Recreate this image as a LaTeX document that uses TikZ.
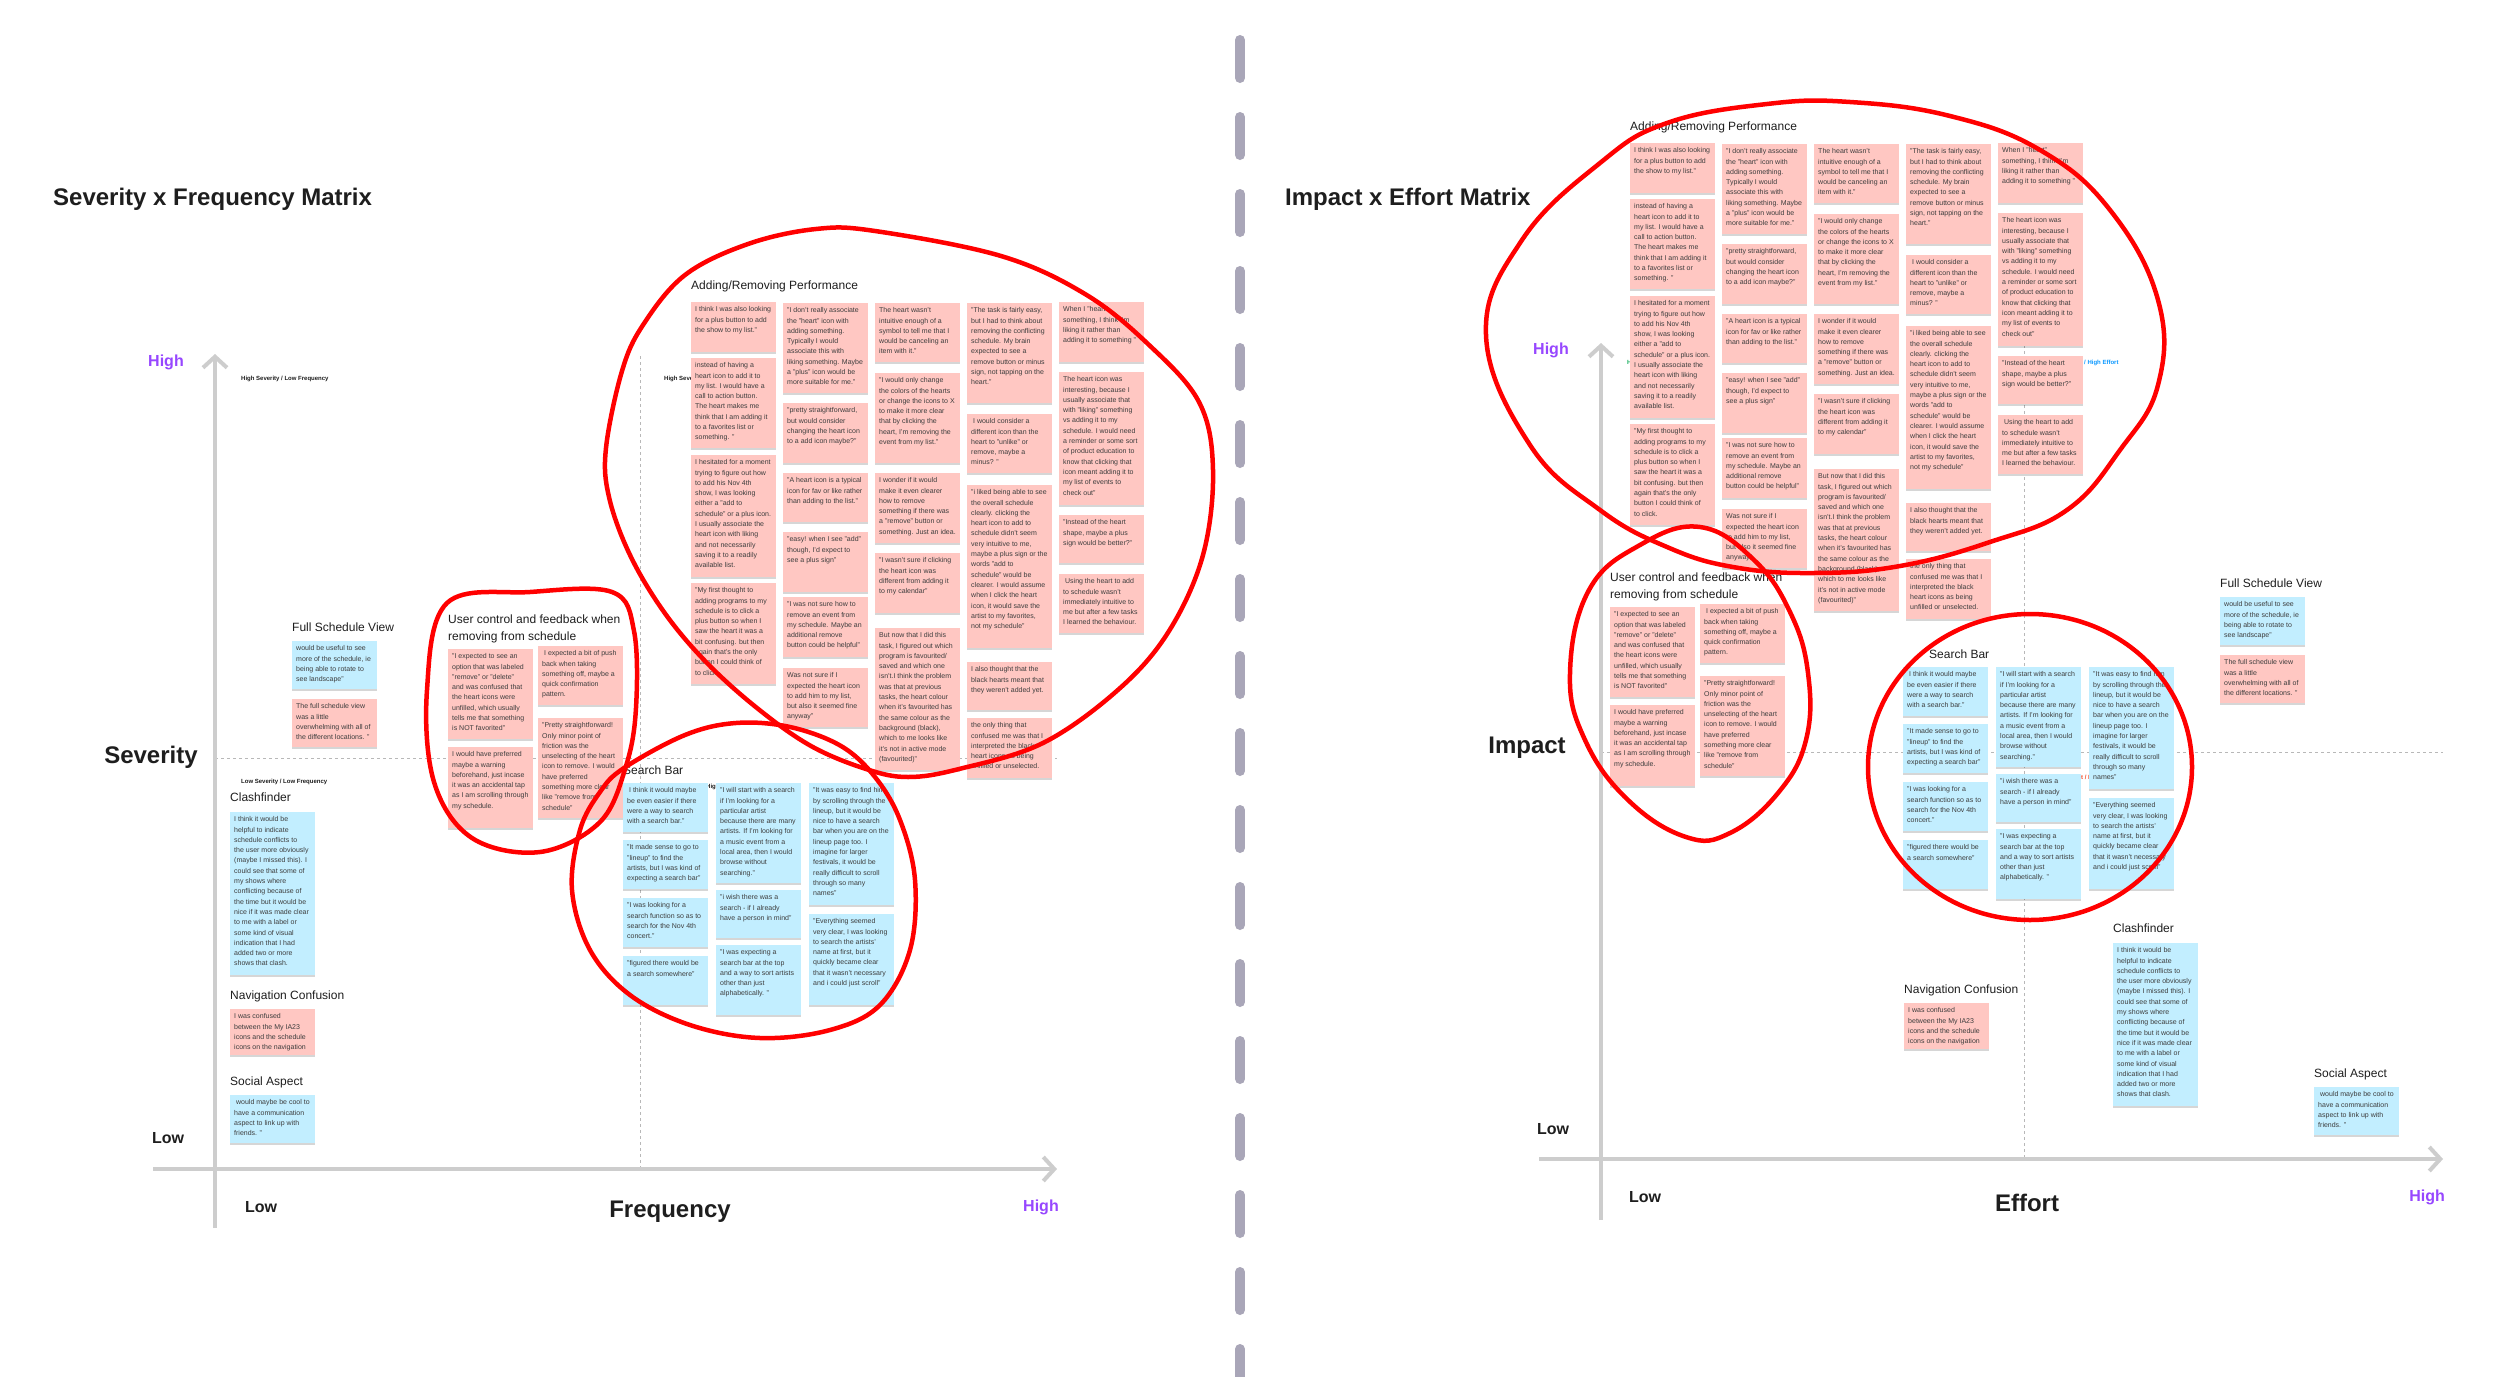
\documentclass[tikz,border=0pt]{standalone}
\usepackage{fontspec}
\setmainfont{Liberation Sans}
\usetikzlibrary{arrows.meta,shadows}
\definecolor{notepink}{HTML}{FFC7C2}
\definecolor{noteblue}{HTML}{C2EEFF}
\definecolor{axisgray}{HTML}{CDCDCD}
\definecolor{hipurple}{HTML}{9747FF}
\definecolor{divgray}{HTML}{A9A6B8}
\definecolor{notetxt}{HTML}{3D3D3D}
\definecolor{titletxt}{HTML}{1E1E1E}
\definecolor{qgreen}{HTML}{14AE5C}
\definecolor{qblue}{HTML}{0D99FF}
\definecolor{qorange}{HTML}{F24822}
\definecolor{loopred}{HTML}{FF0000}

\newcommand\sticky[6]{%
  \node[notebox,fill=#5,minimum height=#4pt] (#1) at (#2,#3) {};
  \node[notetext] (#1t) at (#1.north west) {#6};}

\newcommand\addgroup[3]{%
  \node[grouptitle] (#1title) at (#2,#3-16) {Adding/Removing Performance};
  \sticky{#1a1}{#2}{#3}{50}{notepink}{I think I was also looking\\for a plus button to add\\the show to my list."}
  \sticky{#1a2}{#2}{#3+56}{90}{notepink}{instead of having a\\heart icon to add it to\\my list. I would have a\\call to action button.\\The heart makes me\\think that I am adding it\\to a favorites list or\\something. "}
  \sticky{#1a3}{#2}{#3+153}{122}{notepink}{I hesitated for a moment\\trying to figure out how\\to add his Nov 4th\\show, I was looking\\either a "add to\\schedule" or a plus icon.\\I usually associate the\\heart icon with liking\\and not necessarily\\saving it to a readily\\available list.}
  \sticky{#1a4}{#2}{#3+281}{101}{notepink}{"My first thought to\\adding programs to my\\schedule is to click a\\plus button so when I\\saw the heart it was a\\bit confusing. but then\\again that's the only\\button I could think of\\to click.}
  \sticky{#1b1}{#2+92}{#3+1}{90}{notepink}{"I don't really associate\\the "heart" icon with\\adding something.\\Typically I would\\associate this with\\liking something. Maybe\\a "plus" icon would be\\more suitable for me."}
  \sticky{#1b2}{#2+92}{#3+101}{60}{notepink}{"pretty straightforward,\\but would consider\\changing the heart icon\\to a add icon maybe?"}
  \sticky{#1b3}{#2+92}{#3+171}{49}{notepink}{"A heart icon is a typical\\icon for fav or like rather\\than adding to the list."}
  \sticky{#1b4}{#2+92}{#3+230}{60}{notepink}{"easy! when I see "add"\\though, I'd expect to\\see a plus sign"}
  \sticky{#1b5}{#2+92}{#3+295}{60}{notepink}{"I was not sure how to\\remove an event from\\my schedule. Maybe an\\additional remove\\button could be helpful"}
  \sticky{#1b6}{#2+92}{#3+366}{59}{notepink}{Was not sure if I\\expected the heart icon\\to add him to my list,\\but also it seemed fine\\anyway"}
  \sticky{#1c1}{#2+184}{#3+1}{59}{notepink}{The heart wasn't\\intuitive enough of a\\symbol to tell me that I\\would be canceling an\\item with it."}
  \sticky{#1c2}{#2+184}{#3+71}{90}{notepink}{"I would only change\\the colors of the hearts\\or change the icons to X\\to make it more clear\\that by clicking the\\heart, I'm removing the\\event from my list."}
  \sticky{#1c3}{#2+184}{#3+171}{70}{notepink}{I wonder if it would\\make it even clearer\\how to remove\\something if there was\\a "remove" button or\\something. Just an idea.}
  \sticky{#1c4}{#2+184}{#3+251}{60}{notepink}{"I wasn't sure if clicking\\the heart icon was\\different from adding it\\to my calendar"}
  \sticky{#1c5}{#2+184}{#3+326}{142}{notepink}{But now that I did this\\task, I figured out which\\program is favourited/\\saved and which one\\isn't.I think the problem\\was that at previous\\tasks, the heart colour\\when it's favourited has\\the same colour as the\\background (black),\\which to me looks like\\it's not in active mode\\(favourited)"}
  \sticky{#1d1}{#2+276}{#3+1}{100}{notepink}{"The task is fairly easy,\\but I had to think about\\removing the conflicting\\schedule. My brain\\expected to see a\\remove button or minus\\sign, not tapping on the\\heart."}
  \sticky{#1d2}{#2+276}{#3+112}{59}{notepink}{\ I would consider a\\different icon than the\\heart to "unlike" or\\remove, maybe a\\minus? "}
  \sticky{#1d3}{#2+276}{#3+183}{163}{notepink}{"i liked being able to see\\the overall schedule\\clearly. clicking the\\heart icon to add to\\schedule didn't seem\\very intuitive to me,\\maybe a plus sign or the\\words "add to\\schedule" would be\\clearer. I would assume\\when I click the heart\\icon, it would save the\\artist to my favorites,\\not my schedule"}
  \sticky{#1d4}{#2+276}{#3+360}{48}{notepink}{I also thought that the\\black hearts meant that\\they weren't added yet.}
  \sticky{#1d5}{#2+276}{#3+416}{60}{notepink}{the only thing that\\confused me was that I\\interpreted the black\\heart icons as being\\unfilled or unselected.}
  \sticky{#1e1}{#2+368}{#3}{60}{notepink}{When I "heart"\\something, I think I'm\\liking it rather than\\adding it to something "}
  \sticky{#1e2}{#2+368}{#3+70}{133}{notepink}{The heart icon was\\interesting, because I\\usually associate that\\with "liking" something\\vs adding it to my\\schedule. I would need\\a reminder or some sort\\of product education to\\know that clicking that\\icon meant adding it to\\my list of events to\\check out"}
  \sticky{#1e3}{#2+368}{#3+213}{48}{notepink}{"Instead of the heart\\shape, maybe a plus\\sign would be better?"}
  \sticky{#1e4}{#2+368}{#3+272}{59}{notepink}{\ Using the heart to add\\to schedule wasn't\\immediately intuitive to\\me but after a few tasks\\I learned the behaviour.}
}

\newcommand\usergroup[3]{%
  \node[grouptitle,align=left,font=\fontsize{12}{17}\selectfont] (#1title) at (#2,#3-20.5) {User control and feedback when\\removing from schedule};
  \sticky{#1u1}{#2}{#3}{90}{notepink}{"I expected to see an\\option that was labeled\\"remove" or "delete"\\and was confused that\\the heart icons were\\unfilled, which usually\\tells me that something\\is NOT favorited"}
  \sticky{#1u2}{#2+90}{#3-3}{59}{notepink}{\ I expected a bit of push\\back when taking\\something off, maybe a\\quick confirmation\\pattern.}
  \sticky{#1u3}{#2}{#3+98}{81}{notepink}{I would have preferred\\maybe a warning\\beforehand, just incase\\it was an accidental tap\\as I am scrolling through\\my schedule.}
  \sticky{#1u4}{#2+90}{#3+69}{100}{notepink}{"Pretty straightforward!\\Only minor point of\\friction was the\\unselecting of the heart\\icon to remove. I would\\have preferred\\something more clear\\like "remove from\\schedule"}
}

\newcommand\searchgroup[4]{%
  \node[grouptitle] (#1title) at (#2+#4,#3-13) {Search Bar};
  \sticky{#1s1}{#2}{#3}{49}{noteblue}{\ I think it would maybe\\be even easier if there\\were a way to search\\with a search bar."}
  \sticky{#1s2}{#2}{#3+57}{49}{noteblue}{"It made sense to go to\\"lineup" to find the\\artists, but I was kind of\\expecting a search bar"}
  \sticky{#1s3}{#2}{#3+115}{49}{noteblue}{"I was looking for a\\search function so as to\\search for the Nov 4th\\concert."}
  \sticky{#1s4}{#2}{#3+173}{49}{noteblue}{"figured there would be\\a search somewhere"}
  \sticky{#1s5}{#2+93}{#3}{100}{noteblue}{"I will start with a search\\if I'm looking for a\\particular artist\\because there are many\\artists. If I'm looking for\\a music event from a\\local area, then I would\\browse without\\searching."}
  \sticky{#1s6}{#2+93}{#3+107}{48}{noteblue}{"i wish there was a\\search - if I already\\have a person in mind"}
  \sticky{#1s7}{#2+93}{#3+162}{70}{noteblue}{"I was expecting a\\search bar at the top\\and a way to sort artists\\other than just\\alphabetically. "}
  \sticky{#1s8}{#2+186}{#3}{122}{noteblue}{"It was easy to find him\\by scrolling through the\\lineup, but it would be\\nice to have a search\\bar when you are on the\\lineup page too. I\\imagine for larger\\festivals, it would be\\really difficult to scroll\\through so many\\names"}
  \sticky{#1s9}{#2+186}{#3+131}{91}{noteblue}{"Everything seemed\\very clear, I was looking\\to search the artists'\\name at first, but it\\quickly became clear\\that it wasn't necessary\\and i could just scroll"}
}

\newcommand\fullgroup[3]{%
  \node[grouptitle] (#1title) at (#2,#3-14) {Full Schedule View};
  \sticky{#1f1}{#2}{#3}{48}{noteblue}{would be useful to see\\more of the schedule, ie\\being able to rotate to\\see landscape"}
  \sticky{#1f2}{#2}{#3+58}{48}{notepink}{The full schedule view\\was a little\\overwhelming with all of\\the different locations. "}
}
\newcommand\clashgroup[3]{%
  \node[grouptitle] (#1title) at (#2,#3-15) {Clashfinder};
  \sticky{#1k1}{#2}{#3}{163}{noteblue}{I think it would be\\helpful to indicate\\schedule conflicts to\\the user more obviously\\(maybe I missed this). I\\could see that some of\\my shows where\\conflicting because of\\the time but it would be\\nice if it was made clear\\to me with a label or\\some kind of visual\\indication that I had\\added two or more\\shows that clash.}
}
\newcommand\navgroup[3]{%
  \node[grouptitle] (#1title) at (#2,#3-13) {Navigation Confusion};
  \sticky{#1n1}{#2}{#3}{46}{notepink}{I was confused\\between the My IA23\\icons and the schedule\\icons on the navigation}
}
\newcommand\socialgroup[3]{%
  \node[grouptitle] (#1title) at (#2,#3-13) {Social Aspect};
  \sticky{#1p1}{#2}{#3}{48}{noteblue}{\ would maybe be cool to\\have a communication\\aspect to link up with\\friends. "}
}

\tikzset{
  notebox/.style={anchor=north west, minimum width=85pt, inner sep=0pt, draw=none,
    drop shadow={shadow xshift=0pt, shadow yshift=-1.5pt, opacity=0.16, fill=black}},
  notetext/.style={anchor=north west, inner xsep=4pt, inner ysep=4.5pt, align=left,
    text=notetxt, font=\fontsize{7}{10.3}\selectfont},
  grouptitle/.style={anchor=west, inner sep=0pt, text=titletxt, font=\fontsize{12}{14}\selectfont},
  bigtitle/.style={anchor=west, inner sep=0pt, text=titletxt, font=\fontsize{24}{28}\selectfont\bfseries},
  axislabel/.style={inner sep=0pt, text=titletxt, font=\fontsize{24}{28}\selectfont\bfseries},
  lowlabel/.style={inner sep=0pt, text=titletxt, font=\fontsize{16}{18}\selectfont\bfseries},
  highlabel/.style={inner sep=0pt, text=hipurple, font=\fontsize{16}{18}\selectfont\bfseries},
  quadlabel/.style={anchor=west, inner sep=0pt, text=titletxt, font=\fontsize{6}{7}\selectfont\bfseries},
  axisline/.style={draw=axisgray, line width=4pt, -{Straight Barb[length=11pt,width=24pt]}},
  quadline/.style={draw=black!28, line width=1pt, dash pattern=on 3pt off 3pt},
  redloop/.style={draw=loopred, line width=4.5pt, line join=round},
  divider/.style={draw=divgray, line width=10pt, line cap=round, dash pattern=on 38pt off 39pt},
}

\begin{document}
\begin{tikzpicture}[x=1pt,y=-1pt]
\useasboundingbox[fill=white] (0,0) rectangle (2500,1376);

% divider
\coordinate (dtop) at (1240,40);
\coordinate (dbot) at (1240,1400);
\draw[divider] (dtop) -- (dbot);

% ---------- LEFT MATRIX ----------
\node[bigtitle] (ltitle) at (53,199) {Severity x Frequency Matrix};
\coordinate (lyb) at (215,1228); \coordinate (lyt) at (215,354);
\coordinate (lxl) at (153,1169); \coordinate (lxr) at (1057,1169);
\coordinate (lvt) at (640,356); \coordinate (lvb) at (640,1169);
\coordinate (lhl) at (215,758); \coordinate (lhr) at (1057,758);
\draw[quadline] (lvt) -- (lvb);
\draw[quadline] (lhl) -- (lhr);
\draw[axisline] (lyb) -- (lyt);
\draw[axisline] (lxl) -- (lxr);
\node[highlabel] (lhigh) at (166,362) {High};
\node[axislabel] (lsev) at (151,757) {Severity};
\node[lowlabel] (llow) at (168,1138) {Low};
\node[lowlabel] (lxlow) at (261,1207) {Low};
\node[axislabel] (lfreq) at (670,1212) {Frequency};
\node[highlabel] (lxhigh) at (1041,1207) {High};
\node[quadlabel] (lq1) at (241,379) {High Severity / Low Frequency};
\node[quadlabel] (lq2) at (664,379) {High Severity / High Frequency};
\node[quadlabel] (lq3) at (241,782) {Low Severity / Low Frequency};
\node[quadlabel] (lq4) at (664,787) {Low Severity / High Frequency};

\addgroup{L}{691}{302}
\usergroup{L}{448}{649}
\searchgroup{L}{623}{783}{0}
\fullgroup{L}{292}{641}
\clashgroup{L}{230}{812}
\navgroup{L}{230}{1009}
\socialgroup{L}{230}{1095}

% ---------- RIGHT MATRIX ----------
\node[bigtitle] (rtitle) at (1285,199) {Impact x Effort Matrix};
\coordinate (ryb) at (1601,1220); \coordinate (ryt) at (1601,343);
\coordinate (rxl) at (1539,1159); \coordinate (rxr) at (2443,1159);
\coordinate (rvt) at (2024,345); \coordinate (rvb) at (2024,1159);
\coordinate (rhl) at (1601,752); \coordinate (rhr) at (2443,752);
\draw[quadline] (rvt) -- (rvb);
\draw[quadline] (rhl) -- (rhr);
\draw[axisline] (ryb) -- (ryt);
\draw[axisline] (rxl) -- (rxr);
\node[highlabel] (rhigh) at (1551,350) {High};
\node[axislabel] (rimp) at (1527,748) {Impact};
\node[lowlabel] (rlow) at (1553,1129) {Low};
\node[lowlabel] (rxlow) at (1645,1197) {Low};
\node[axislabel] (reff) at (2027,1203) {Effort};
\node[highlabel] (rxhigh) at (2427,1197) {High};
\node[quadlabel,text=qgreen] (rq1) at (1627,363) {High Impact / Low Effort};
\node[quadlabel,text=qblue] (rq2) at (2048,363) {High Impact / High Effort};
\node[quadlabel,text=qorange] (rq4) at (2050,778) {Low Impact / High Effort};

\addgroup{R}{1630}{143}
\usergroup{R}{1610}{607}
\searchgroup{R}{1903}{667}{26}
\fullgroup{R}{2220}{597}
\clashgroup{R}{2113}{943}
\navgroup{R}{1904}{1003}
\socialgroup{R}{2314}{1087}

% ---------- red loops ----------
\draw[redloop] plot[smooth cycle, tension=0.6] coordinates {
 (816,229) (875,231) (1001,256) (1085,294) (1148,344) (1199,402) (1213,470) (1203,555)
 (1169,631) (1119,689) (1043,743) (959,769) (908,777) (866,769) (811,746) (757,708)
 (706,662) (664,612) (630,555) (609,497) (606,448) (622,371) (643,325) (685,275) (748,244)};
\draw[redloop] plot[smooth cycle, tension=0.6] coordinates {
 (447,603) (530,592) (612,592) (634,631) (636,708) (626,766) (600,822) (540,852)
 (472,838) (434,782) (427,690)};
\draw[redloop] plot[smooth cycle, tension=0.6] coordinates {
 (624,768) (685,735) (736,723) (790,727) (841,746) (875,777) (900,820) (915,880)
 (910,950) (880,1005) (830,1030) (760,1038) (690,1025) (630,995) (590,950) (572,890)
 (580,830) (600,792)};

\draw[redloop] plot[smooth cycle, tension=0.7] coordinates {
 (1486,335) (1522,240) (1600,163) (1667,123) (1767,104) (1850,102) (1950,116) (2040,150)
 (2110,210) (2158,300) (2158,385) (2120,450) (2067,510) (1990,542) (1900,566) (1813,573)
 (1733,567) (1667,547) (1600,510) (1530,445)};
\draw[redloop] plot[smooth cycle, tension=0.7] coordinates {
 (1700,527) (1754,560) (1790,612) (1808,673) (1806,740) (1778,793) (1730,833) (1686,837)
 (1628,800) (1585,740) (1570,673) (1589,590) (1640,545)};
\draw[redloop] (2030,767) ellipse [x radius=162, y radius=153];
\end{tikzpicture}
\end{document}
